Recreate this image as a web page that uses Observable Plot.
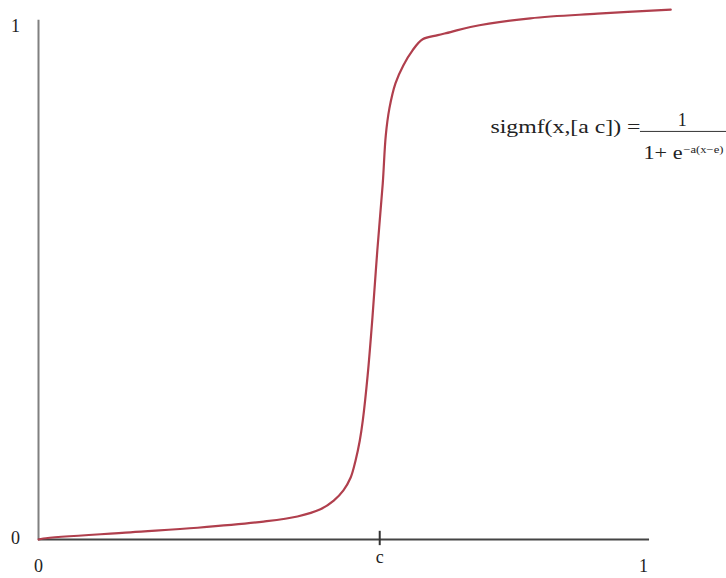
<!DOCTYPE html>
<html>
<head>
<meta charset="utf-8">
<script src="https://cdn.jsdelivr.net/npm/d3@7"></script>
<script src="https://cdn.jsdelivr.net/npm/@observablehq/plot@0.6"></script>
<style>
  html, body { margin: 0; padding: 0; background: #fff; }
  #chart svg { display: block; }
</style>
</head>
<body>
<div id="chart"></div>
<script>
// Curve samples (x in [0,1], y in [0,1])
const curveX = [0, 0.008, 0.152, 0.263, 0.372, 0.428, 0.466, 0.488, 0.504, 0.516, 0.524, 0.531, 0.536, 0.544, 0.552, 0.560, 0.569, 0.574, 0.580, 0.590, 0.603, 0.618, 0.635, 0.660, 0.681, 0.714, 0.813, 0.924, 1.045];
const curveY = [0, 0.002, 0.014, 0.023, 0.035, 0.045, 0.059, 0.076, 0.096, 0.121, 0.154, 0.193, 0.232, 0.320, 0.434, 0.564, 0.695, 0.789, 0.842, 0.891, 0.926, 0.955, 0.977, 0.985, 0.991, 1.001, 1.018, 1.027, 1.035];

// Axis ticks
const cValue = 0.564;
const xTickValues = [0, 1];
const xTickLabels = ["0", "1"];
const cTickLabel = "c";
const yTickValues = [0, 1];
const yTickLabels = ["0", "1"];

// Formula text
const formulaLeft = "sigmf(x,[a c]) =";
const formulaNum = "1";
const formulaDen = "1+ e";
const formulaExp = "\u2212a(x\u2212e)";

const curve = curveX.map((x, i) => ({x, y: curveY[i]}));
const xTicks = xTickValues.map((v, i) => ({v, label: xTickLabels[i]}));
const yTicks = yTickValues.map((v, i) => ({v, label: yTickLabels[i]}));

const serif = "'Liberation Serif', 'Times New Roman', serif";

const plot = Plot.plot({
  width: 726,
  height: 578,
  margin: 0,
  style: {background: "#fff", fontFamily: serif},
  x: {domain: [0, 1], range: [38, 643], axis: null},
  y: {domain: [0, 1], range: [539, 27], axis: null},
  marks: [
    // axis lines
    Plot.ruleX([0], {y1: 0, y2: 1.014, stroke: "#808080", strokeWidth: 2}),
    Plot.ruleY([0], {x1: 0, x2: 1.01, stroke: "#444", strokeWidth: 2.2}),
    // c tick
    Plot.ruleX([cValue], {y1: -0.012, y2: 0.016, stroke: "#333", strokeWidth: 2}),
    // curve
    Plot.line(curve, {x: "x", y: "y", curve: "catmull-rom", stroke: "#b03f4d", strokeWidth: 2.2}),
    // tick labels
    Plot.text(xTicks, {x: "v", y: 0, text: "label", dy: 27, fontSize: 18, fill: "#222", lineAnchor: "middle"}),
    Plot.text([cTickLabel], {x: cValue, y: 0, text: d => d, dy: 18, fontSize: 18, fill: "#222", lineAnchor: "middle"}),
    Plot.text(yTicks, {x: 0, y: "v", text: "label", dx: -23, dy: -1, fontSize: 18, fill: "#222", lineAnchor: "middle"}),
    // formula
    Plot.text([formulaLeft], {x: 0.995, y: 0.805, text: d => d, textAnchor: "end", fontSize: 18, fill: "#222", lineAnchor: "middle"}),
    Plot.text([formulaNum], {x: 1.064, y: 0.818, text: d => d, fontSize: 18, fill: "#222", lineAnchor: "middle"}),
    Plot.ruleY([0.797], {x1: 0.995, x2: 1.14, stroke: "#333", strokeWidth: 1}),
    Plot.text([formulaDen], {x: 1.0, y: 0.754, text: d => d, textAnchor: "start", fontSize: 18, fill: "#222", lineAnchor: "middle"}),
    Plot.text([formulaExp], {x: 1.066, y: 0.762, text: d => d, textAnchor: "start", fontSize: 10.5, fill: "#222", lineAnchor: "middle"})
  ]
});

// stretch formula text horizontally to match the picture
const stretch = new Map([[formulaLeft, 150], [formulaDen, 39], [formulaExp, 40]]);
d3.select(plot).selectAll("text").each(function() {
  const t = this.textContent;
  if (stretch.has(t)) {
    this.setAttribute("textLength", stretch.get(t));
    this.setAttribute("lengthAdjust", "spacingAndGlyphs");
  }
});

document.getElementById("chart").appendChild(plot);
</script>
</body>
</html>
